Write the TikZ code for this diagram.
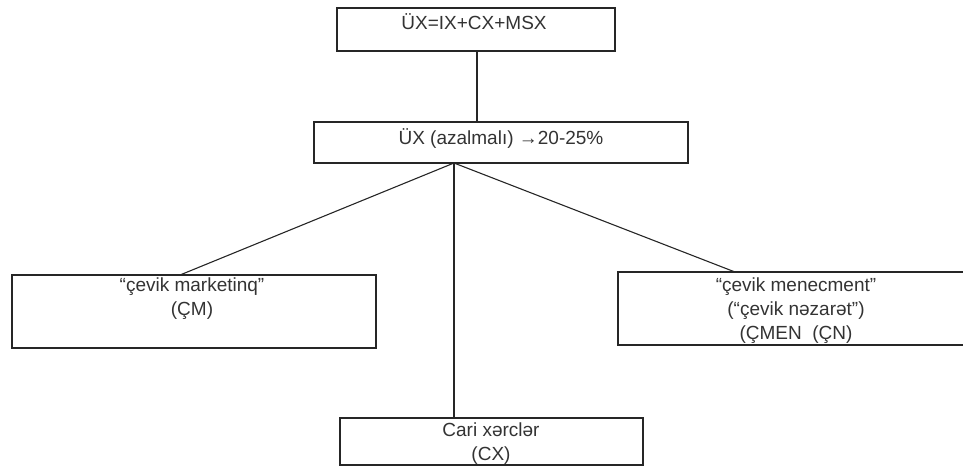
\documentclass[tikz,border=0pt]{standalone}
\usepackage{fontspec}
\setmainfont{Liberation Sans}
\begin{document}
\begin{tikzpicture}[x=1pt,y=-1pt,
  box/.style={draw=black!85,line width=1.1pt,inner sep=0pt,outer sep=0pt},
  lbl/.style={inner sep=0pt,font=\fontsize{19}{24}\selectfont,text=black!80,align=center},
  conn/.style={draw=black!85,line width=1.1pt}]
\useasboundingbox (0,0) rectangle (963,468);
% boxes
\node[box,minimum width=278pt,minimum height=43pt] (top) at (476,29.5) {};
\node[box,minimum width=374pt,minimum height=41pt] (mid) at (501,142.5) {};
\node[box,minimum width=364pt,minimum height=73pt] (cm) at (194,311.5) {};
\node[box,minimum width=362pt,minimum height=73pt] (cmen) at (799,308.5) {};
\node[box,minimum width=303pt,minimum height=47pt] (cx) at (491.5,441.5) {};
% texts
\node[lbl] (ttop) at (474,22) {ÜX=IX+CX+MSX};
\node[lbl] (tmid) at (501,139) {ÜX (azalmalı) →20-25\%};
\node[lbl] (tcm) at (192,299) {“çevik marketinq”\\(ÇM)};
\node[lbl] (tcmen) at (796,311) {“çevik menecment”\\(“çevik nəzarət”)\\(ÇMEN\ \ (ÇN)};
\node[lbl] (tcx) at (491,444) {Cari xərclər\\(CX)};
% connectors
\coordinate (fan) at (454,163);
\coordinate (cmend) at (180,275);
\coordinate (cmenend) at (735,272);
\draw[conn] (top.south -| 477,0) -- (mid.north -| 477,0);
\draw[conn] (fan) -- (cmend);
\draw[conn] (fan) -- (cmenend);
\draw[conn] (fan) -- (cx.north -| fan);
\end{tikzpicture}
\end{document}
